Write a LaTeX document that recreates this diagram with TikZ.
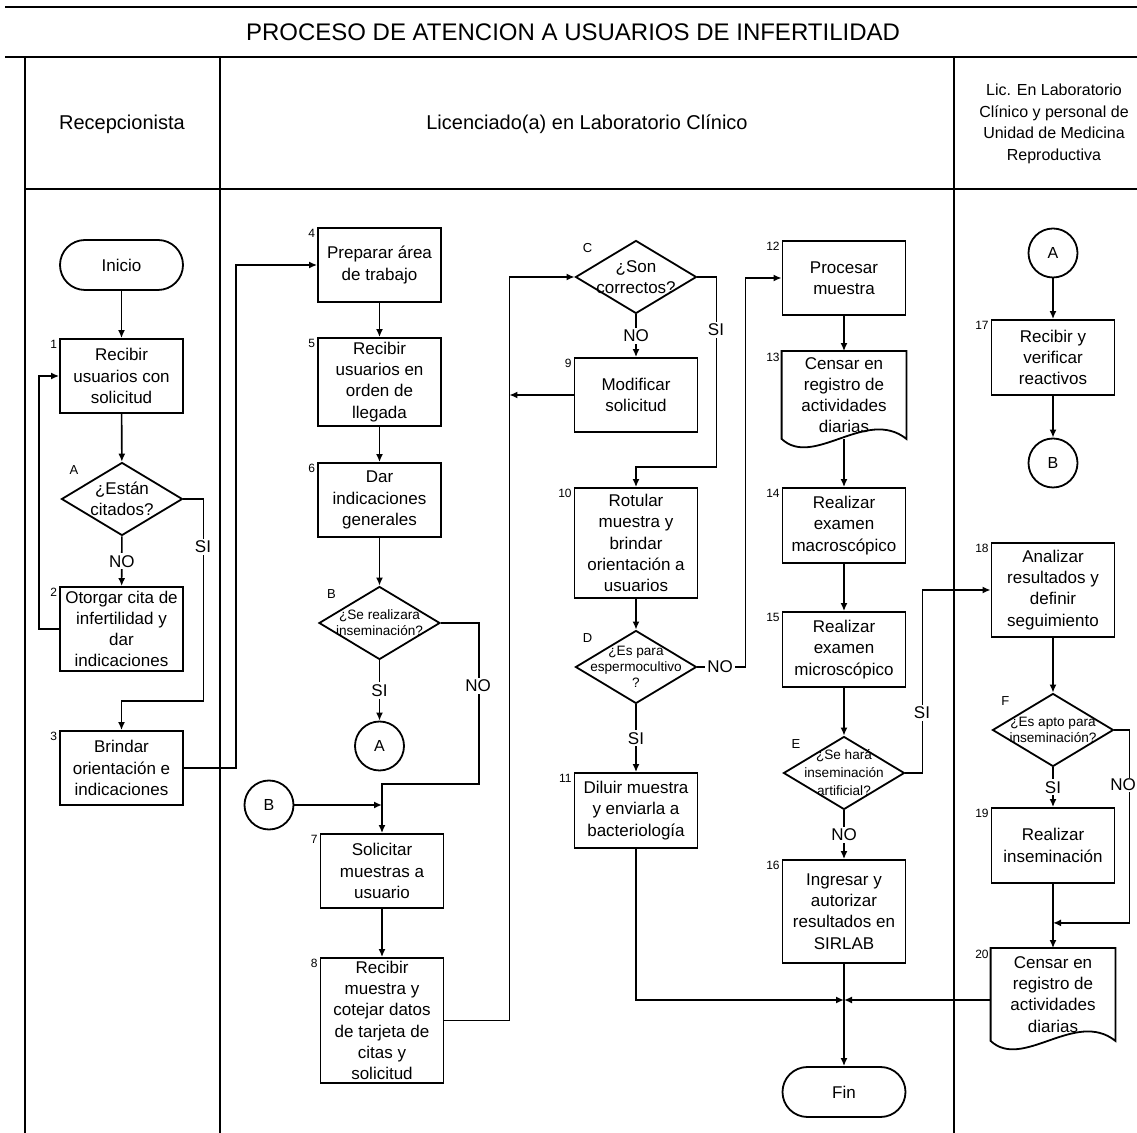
\documentclass[tikz,border=0pt]{standalone}
\usepackage{fontspec}
\setmainfont{Liberation Sans}
\usetikzlibrary{arrows.meta, shapes.geometric, positioning, calc}

\tikzset{
  lane/.style={line width=1.1pt},
  line/.style={line width=0.8pt},
  box/.style={draw, line width=0.9pt, minimum width=61.5pt, inner sep=1pt, align=center, font=\fontsize{8.5}{10.6}\selectfont},
  term/.style={box, rounded corners=12.5pt, minimum height=25pt},
  doc/.style={box, draw=none},
  decision/.style={draw, diamond, line width=0.9pt, minimum width=60.5pt, minimum height=36.5pt, inner sep=0pt},
  dtext/.style={align=center, inner sep=0pt, font=\fontsize{8.5}{10.4}\selectfont},
  dsmall/.style={align=center, inner sep=0pt, font=\fontsize{6.8}{8}\selectfont},
  conn/.style={draw, circle, line width=0.9pt, minimum size=24.5pt, inner sep=0pt, font=\fontsize{8}{9}\selectfont},
  num/.style={inner sep=0.8pt, font=\fontsize{6}{7}\selectfont, anchor=north east},
  dletter/.style={inner sep=0.8pt, font=\fontsize{6.5}{7}\selectfont, xshift=-5.5pt, yshift=2pt},
  yn/.style={fill=white, inner sep=1pt, font=\fontsize{8.5}{10}\selectfont},
  hdr/.style={align=center, font=\fontsize{10}{12}\selectfont}
}

\begin{document}
\begin{tikzpicture}[x=0.5pt, y=-0.5pt, >={Latex[length=4pt,width=3.5pt]}]
\useasboundingbox (0,0) rectangle (1137,1133);

% lanes
\draw[lane] (5,7) -- (1137,7);
\draw[lane] (5,57) -- (1137,57);
\draw[lane] (25,189) -- (1137,189);
\foreach \x in {25,220,954}
  \draw[lane] (\x,57) -- (\x,1133);

\node (title) at (573,32) {\fontsize{12}{14}\selectfont PROCESO DE ATENCION A USUARIOS DE INFERTILIDAD};
\node[hdr] (h1) at (122,124) {Recepcionista};
\node[hdr] (h2) at (587,124) {Licenciado(a) en Laboratorio Clínico};
\node[hdr, font=\fontsize{8}{10.8}\selectfont] (h3) at (1054,124) {Lic. En Laboratorio\\Clínico y personal de\\Unidad de Medicina\\Reproductiva};

% recepcionista
\node[term] (ini) at (121.5,265) {Inicio};
\node[box, minimum height=37pt, label={[num]north west:1}] (b1) at (121.5,376) {Recibir\\usuarios con\\solicitud};
\node[decision, label={[dletter]north west:A}, label={[dtext]center:{¿Están\\citados?}}] (dA) at (122,499) {};
\node[box, minimum height=42pt, label={[num]north west:2}] (b2) at (121.5,629) {Otorgar cita de\\infertilidad y\\dar\\indicaciones};
\node[box, minimum height=37pt, label={[num]north west:3}] (b3) at (121.5,768) {Brindar\\orientación e\\indicaciones};

% licenciado
\node[box, minimum height=37pt, label={[num]north west:4}] (b4) at (379.5,265) {Preparar área\\de trabajo};
\node[box, minimum height=44pt, label={[num]north west:5}] (b5) at (379.5,382) {Recibir\\usuarios en\\orden de\\llegada};
\node[box, minimum height=37pt, label={[num]north west:6}] (b6) at (379.5,500) {Dar\\indicaciones\\generales};
\node[decision, label={[dletter]north west:B}, label={[dsmall]center:{¿Se realizara\\inseminación?}}] (dB) at (379.5,623) {};
\node[conn] (cA1) at (379.5,746) {A};
\node[conn] (cB1) at (269,805) {B};
\node[box, minimum height=37pt, label={[num]north west:7}] (b7) at (382,871) {Solicitar\\muestras a\\usuario};
\node[box, minimum height=62.5pt, label={[num]north west:8}] (b8) at (382,1020.5) {Recibir\\muestra y\\cotejar datos\\de tarjeta de\\citas y\\solicitud};

\node[decision, label={[dletter]north west:C}, label={[dtext]center:{¿Son\\correctos?}}] (dC) at (636,277) {};
\node[box, minimum height=37pt, label={[num]north west:9}] (b9) at (636,395) {Modificar\\solicitud};
\node[box, minimum height=55pt, label={[num]north west:10}] (b10) at (636,543) {Rotular\\muestra y\\brindar\\orientación a\\usuarios};
\node[decision, label={[dletter]north west:D}, label={[dsmall]center:{¿Es para\\espermocultivo\\?}}] (dD) at (636,667) {};
\node[box, minimum height=37.5pt, label={[num]north west:11}] (b11) at (636,810.5) {Diluir muestra\\y enviarla a\\bacteriología};

\node[box, minimum height=37pt, label={[num]north west:12}] (b12) at (844,278) {Procesar\\muestra};
\node[doc, minimum height=43pt, label={[num]north west:13}] (b13) at (844,395) {Censar en\\registro de\\actividades\\diarias};
\node[box, minimum height=37.5pt, label={[num]north west:14}] (b14) at (844,525.5) {Realizar\\examen\\macroscópico};
\node[box, minimum height=37.5pt, label={[num]north west:15}] (b15) at (844,649.5) {Realizar\\examen\\microscópico};
\node[decision, label={[dletter]north west:E}, label={[dsmall]center:{¿Se hará\\[1pt]inseminación\\[1pt]artificial?}}] (dE) at (844,773) {};
\node[box, minimum height=51.5pt, label={[num]north west:16}] (b16) at (844,911.5) {Ingresar y\\autorizar\\resultados en\\SIRLAB};
\node[term] (fin) at (844,1092) {Fin};
\coordinate (j) at (844,1000);

% lic. y personal
\node[conn] (cA2) at (1053,253) {A};
\node[box, minimum height=37.5pt, label={[num]north west:17}] (b17) at (1053,357.5) {Recibir y\\verificar\\reactivos};
\node[conn] (cB2) at (1053,463) {B};
\node[box, minimum height=47pt, label={[num]north west:18}] (b18) at (1053,590) {Analizar\\resultados y\\definir\\seguimiento};
\node[decision, label={[dletter]north west:F}, label={[dsmall]center:{¿Es apto para\\inseminación?}}] (dF) at (1053,730) {};
\node[box, minimum height=37.5pt, label={[num]north west:19}] (b19) at (1053,845.5) {Realizar\\inseminación};
\node[doc, minimum height=45.5pt, label={[num]north west:20}] (b20) at (1053,994.5) {Censar en\\registro de\\actividades\\diarias};

\draw[line width=0.9pt] (b13.north west) -- (b13.north east) -- (b13.south east) .. controls ($(b13.south east)+(-40,-32)$) and ($(b13.south west)+(32,30)$) .. (b13.south west) -- cycle;
\draw[line width=0.9pt] (b20.north west) -- (b20.north east) -- (b20.south east) .. controls ($(b20.south east)+(-40,-32)$) and ($(b20.south west)+(32,30)$) .. (b20.south west) -- cycle;

% connectors
\draw[line, ->] (ini) -- (b1);
\draw[line, ->] (b1) -- (dA);
\draw[line, ->] (dA) -- node[yn] (nA) {NO} (b2);
\draw[line, ->] (b2.west) -- ++(-20,0) |- (b1.west);
\draw[line, ->] (dA.east) -- ++(20,0) |- ($(b3.north)+(0,-29)$) -- (b3.north);
\node[yn] (sA) at (203,547) {SI};
\draw[line, ->] (b3.east) -- ++(52,0) |- (b4.west);

\draw[line, ->] (b4) -- (b5);
\draw[line, ->] (b5) -- (b6);
\draw[line, ->] (b6) -- (dB);
\draw[line, ->] (dB) -- node[yn] (sB) {SI} (cA1);
\draw[line, ->] (dB.east) -- ++(38,0) |- ($(b7.north)+(0,-49)$) -- (b7.north);
\node[yn] (nB) at (478,686) {NO};
\draw[line, ->] (cB1) -- (cB1 -| b7.north);
\draw[line, ->] (b7) -- (b8);
\coordinate (r8) at ($(b8.east)+(65,0)$);
\draw[line, ->] (b8.east) -- (r8) |- (dC.west);
\draw[line, ->] (b9.west) -- (b9.west -| r8);

\draw[line, ->] (dC) -- node[yn] (nC) {NO} (b9);
\draw[line, ->] (dC.east) -- ++(19,0) |- ($(b10.north)+(0,-20)$) -- (b10.north);
\node[yn] (sC) at (716,330) {SI};
\draw[line, ->] (b10) -- (dD);
\draw[line, ->] (dD.east) -- ++(48,0) |- (b12.west);
\node[yn] (nD) at (720,667) {NO};
\draw[line, ->] (dD) -- node[yn] (sD) {SI} (b11);
\draw[line, ->] (b11) |- (j);

\draw[line, ->] (b12) -- (b13);
\draw[line, ->] (b13) -- (b14);
\draw[line, ->] (b14) -- (b15);
\draw[line, ->] (b15) -- (dE);
\draw[line, ->] (dE) -- node[yn] (nE) {NO} (b16);
\draw[line, ->] (dE.east) -- ++(17,0) |- (b18.west);
\node[yn] (sE) at (922,713) {SI};
\draw[line, ->] (b16) -- (fin);

\draw[line, ->] (cA2) -- (b17);
\draw[line, ->] (b17) -- (cB2);
\draw[line, ->] (b18) -- (dF);
\draw[line, ->] (dF) -- node[yn] (sF) {SI} (b19);
\draw[line, ->] (dF.east) -- ++(15,0) |- ($(b19.south)+(0,39)$);
\node[yn, inner sep=0.5pt] (nF) at (1123,785) {NO};
\draw[line, ->] (b19) -- (b20);
\draw[line, ->] (j -| b20.west) -- (j);
\end{tikzpicture}
\end{document}
